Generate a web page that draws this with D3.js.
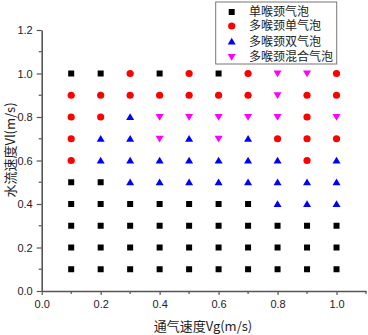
<!DOCTYPE html>
<html><head><meta charset="utf-8">
<script src="https://cdn.jsdelivr.net/npm/d3@7"></script>
<style>body{margin:0;background:#fff}svg{display:block}</style>
</head><body>
<script>
const xValues = [0.1,0.2,0.3,0.4,0.5,0.6,0.7,0.8,0.9,1.0];
const yValues = [1.0,0.9,0.8,0.7,0.6,0.5,0.4,0.3,0.2,0.1];
// S=单喉颈气泡, C=多喉颈单气泡, T=多喉颈双气泡, V=多喉颈混合气泡
const patternRows = [
  "SSCSCSCVVC",
  "CCCCCCCVCC",
  "CCTVVVVVCV",
  "CTTVTVTCCC",
  "CTTTTTTTCT",
  "SSTTTTTTTT",
  "SSSSSSSTTT",
  "SSSSSSSSSS",
  "SSSSSSSSSS",
  "SSSSSSSSSS"
];
const seriesNames = ["单喉颈气泡","多喉颈单气泡","多喉颈双气泡","多喉颈混合气泡"];
const seriesCodes = ["S","C","T","V"];
const seriesColors = ["#000000","#ff0000","#0000ff","#ff00ff"];
const xTicks = [0.0,0.2,0.4,0.6,0.8,1.0];
const yTicks = [0.0,0.2,0.4,0.6,0.8,1.0,1.2];
const xTitle = "通气速度Vg(m/s)";
const yTitle = "水流速度Vl(m/s)";

const W=368,H=335;
const svg=d3.select("body").append("svg").attr("width",W).attr("height",H);
const x=d3.scaleLinear().domain([0,1.1]).range([41.7,366]);
const y=d3.scaleLinear().domain([0,1.2]).range([291,30]);
const axisColor="#555";

const points=[];
patternRows.forEach((row,i)=>{row.split("").forEach((c,j)=>{points.push({x:xValues[j],y:yValues[i],s:seriesCodes.indexOf(c)});});});

function marker(g,s){
  const col=seriesColors[s];
  if(s===0) g.append("rect").attr("x",-3).attr("y",-3).attr("width",6).attr("height",6).attr("fill",col);
  else if(s===1) g.append("circle").attr("r",3.6).attr("fill",col);
  else if(s===2) g.append("path").attr("d","M0,-3.8L4,3L-4,3Z").attr("fill",col);
  else g.append("path").attr("d","M0,3.8L4,-3L-4,-3Z").attr("fill",col);
}

// axes
const xAxis=d3.axisBottom(x).tickValues(xTicks).tickFormat(d3.format(".1f")).tickSize(4).tickSizeOuter(0);
const gx=svg.append("g").attr("transform","translate(0,291)").call(xAxis);
const yAxis=d3.axisLeft(y).tickValues(yTicks).tickFormat(d3.format(".1f")).tickSize(5).tickSizeOuter(0);
const gy=svg.append("g").attr("transform","translate(41.7,0)").call(yAxis);
[gx,gy].forEach(g=>{
  g.select(".domain").attr("stroke",axisColor).attr("stroke-width",1.6);
  g.selectAll(".tick line").attr("stroke",axisColor).attr("stroke-width",1.2);
  g.selectAll(".tick text").attr("fill","#222").style("font-family","Liberation Sans, Arial, sans-serif").style("font-size","11px");
});
gx.selectAll(".tick text").attr("dy","0.9em");
gy.selectAll(".tick text").attr("dx","-1px");
// minor ticks
const xMinor=[0.1,0.3,0.5,0.7,0.9,1.1];
svg.append("g").selectAll("line").data(xMinor).join("line")
  .attr("x1",d=>x(d)).attr("x2",d=>x(d)).attr("y1",291).attr("y2",294).attr("stroke",axisColor).attr("stroke-width",1.2);
const yMinor=[0.1,0.3,0.5,0.7,0.9,1.1];
svg.append("g").selectAll("line").data(yMinor).join("line")
  .attr("y1",d=>y(d)).attr("y2",d=>y(d)).attr("x1",41.7).attr("x2",38.7).attr("stroke",axisColor).attr("stroke-width",1.2);

// points
points.forEach(p=>{
  const g=svg.append("g").attr("transform",`translate(${x(p.x)},${y(p.y)})`);
  marker(g,p.s);
});

// titles
svg.append("text").attr("x",203).attr("y",325).attr("text-anchor","middle").attr("dominant-baseline","central")
  .attr("fill","#222").style("font-family","Noto Sans CJK SC, sans-serif").style("font-size","13px").text(xTitle);
svg.append("text").attr("transform","translate(9,150) rotate(-90)").attr("text-anchor","middle").attr("dominant-baseline","central")
  .attr("fill","#222").style("font-family","Noto Sans CJK SC, sans-serif").style("font-size","13px").text(yTitle);

// legend
const lg=svg.append("g");
lg.append("rect").attr("x",215.7).attr("y",2).attr("width",121).attr("height",62).attr("fill","#fff").attr("stroke","#777").attr("stroke-width",1);
const ly=[12,26,41.5,57];
seriesNames.forEach((n,i)=>{
  const g=lg.append("g").attr("transform",`translate(231.7,${ly[i]})`);
  marker(g,i);
  lg.append("text").attr("x",249).attr("y",ly[i]).attr("dominant-baseline","central").attr("fill","#222")
    .style("font-family","Liberation Sans, Noto Sans CJK SC, sans-serif").style("font-size","12px").text(n);
});
</script>
</body></html>
